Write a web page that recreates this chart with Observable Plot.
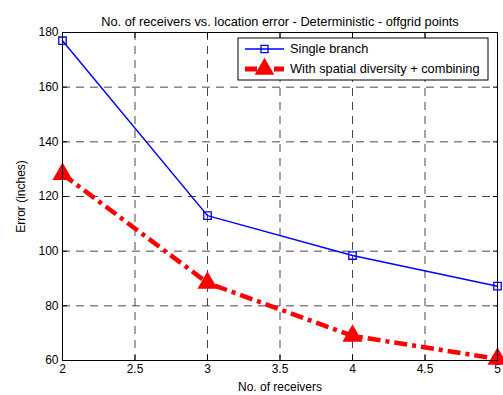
<!DOCTYPE html>
<html><head>
<meta charset="utf-8">
<script src="https://cdn.jsdelivr.net/npm/d3@7"></script>
<script src="https://cdn.jsdelivr.net/npm/@observablehq/plot@0.6"></script>
<style>
body{margin:0;background:#fff}
svg{font-family:"Liberation Sans",Arial,sans-serif}
</style>
</head><body><div id="chart"></div>
<script>
const receivers = [2, 3, 4, 5];
const singleBranch = [177, 113, 98.4, 87.2];
const spatialDiversity = [128.2, 88.4, 69, 60.6];
const xTicks = [2, 2.5, 3, 3.5, 4, 4.5, 5];
const yTicks = [60, 80, 100, 120, 140, 160, 180];
const seriesNames = ["Single branch", "With spatial diversity + combining"];
const title = "No. of receivers vs. location error - Deterministic - offgrid points";
const xLabel = "No. of receivers";
const yLabel = "Error (inches)";

const single = receivers.map((x, i) => ({x, y: singleBranch[i]}));
const spatial = receivers.map((x, i) => ({x, y: spatialDiversity[i]}));
const fmt = d => String(d);
const blank = () => "";

const chart = Plot.plot({
  width: 503, height: 395,
  marginLeft: 62, marginRight: 6, marginTop: 32, marginBottom: 35,
  style: {fontFamily: '"Liberation Sans", Arial, sans-serif', fontSize: "12px", background: "white", color: "black"},
  x: {domain: [2, 5]},
  y: {domain: [60, 180]},
  marks: [
    Plot.gridX(xTicks, {stroke: "#333", strokeOpacity: 1, strokeWidth: 0.9, strokeDasharray: "8,6"}),
    Plot.gridY(yTicks, {stroke: "#333", strokeOpacity: 1, strokeWidth: 0.9, strokeDasharray: "8,6"}),
    Plot.axisX(xTicks, {anchor: "bottom", tickSize: 0, tickPadding: 4, tickFormat: fmt, label: xLabel, labelAnchor: "center", labelArrow: "none", labelOffset: 30, fontSize: 12}),
    Plot.axisY(yTicks, {anchor: "left", tickSize: 0, tickPadding: 4, tickFormat: fmt, label: yLabel, labelAnchor: "center", labelArrow: "none", labelOffset: 46, fontSize: 12}),
    Plot.axisX(xTicks, {anchor: "bottom", tickSize: -5, tickFormat: blank, label: null}),
    Plot.axisX(xTicks, {anchor: "top", tickSize: -5, tickFormat: blank, label: null}),
    Plot.axisY(yTicks, {anchor: "left", tickSize: -5, tickFormat: blank, label: null}),
    Plot.axisY(yTicks, {anchor: "right", tickSize: -5, tickFormat: blank, label: null}),
    Plot.line(single, {x: "x", y: "y", stroke: "#0000ff", strokeWidth: 1.5}),
    Plot.dot(single, {x: "x", y: "y", symbol: "square", r: 4.2, stroke: "#0000ff", strokeWidth: 1.3, fill: "none"}),
    Plot.line(spatial, {x: "x", y: "y", stroke: "#ff0000", strokeWidth: 4.5, strokeDasharray: "13,5,4,5", strokeLinecap: "butt", strokeLinejoin: "miter"}),
    Plot.dot(spatial, {x: "x", y: "y", symbol: "triangle", r: 6.5, fill: "#ff0000", stroke: "#ff0000"}),
    Plot.frame({stroke: "black", strokeWidth: 1}),
    Plot.text([title], {frameAnchor: "top", dy: -16, fontSize: 12.8, fill: "black"})
  ]
});
document.getElementById("chart").appendChild(chart);

// Legend
const svg = d3.select(chart);
const lg = svg.append("g").attr("transform", "translate(238,38)").attr("text-anchor", "start");
lg.append("rect").attr("x", 0).attr("y", 0).attr("width", 250).attr("height", 42)
  .attr("fill", "white").attr("stroke", "black").attr("stroke-width", 1);
const rows = [
  {name: seriesNames[0], color: "#0000ff", w: 1.5, dash: null, sym: d3.symbolSquare, size: 50, fill: "none"},
  {name: seriesNames[1], color: "#ff0000", w: 5, dash: "12,17", sym: d3.symbolTriangle, size: 130, fill: "#ff0000"}
];
rows.forEach((r, i) => {
  const y = 11 + i * 20;
  lg.append("line").attr("x1", 7).attr("x2", 46).attr("y1", y).attr("y2", y)
    .attr("stroke", r.color).attr("stroke-width", r.w).attr("stroke-dasharray", r.dash);
  lg.append("path").attr("d", d3.symbol(r.sym, r.size)()).attr("transform", `translate(26.5,${y})`)
    .attr("fill", r.fill).attr("stroke", r.color).attr("stroke-width", 1.3);
  lg.append("text").attr("x", 52).attr("y", y).attr("dy", "0.35em").attr("font-size", 12.8)
    .attr("text-anchor", "start").attr("fill", "black").text(r.name);
});
</script>
</body></html>
